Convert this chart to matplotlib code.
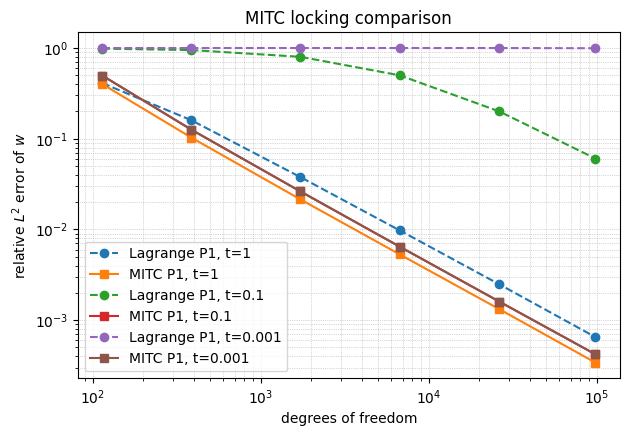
import numpy as np
import matplotlib
matplotlib.use("Agg")
import matplotlib.pyplot as plt

# degrees of freedom per refinement level
dofs = [114, 386, 1726, 6730, 26360, 98400]

# relative L2 error of w
lagrange_t1 = [0.41, 0.16, 0.0377, 0.00975, 0.00248, 0.00065]
mitc_t1 = [0.40, 0.103, 0.0214, 0.0053, 0.00132, 0.00034]
lagrange_t01 = [0.985, 0.95, 0.80, 0.50, 0.20, 0.0605]
mitc_t01 = [0.497, 0.126, 0.0262, 0.00645, 0.0016, 0.00042]
lagrange_t0001 = [1.0, 1.0, 1.0, 1.0, 1.0, 0.995]
mitc_t0001 = [0.497, 0.126, 0.0262, 0.00645, 0.0016, 0.00042]

fig, ax = plt.subplots(figsize=(6.29, 4.36), dpi=100)
fig.subplots_adjust(left=0.1235, right=0.9857, bottom=0.1323, top=0.9259)

ax.loglog(dofs, lagrange_t1, 'o--', label='Lagrange P1, t=1')
ax.loglog(dofs, mitc_t1, 's-', label='MITC P1, t=1')
ax.loglog(dofs, lagrange_t01, 'o--', label='Lagrange P1, t=0.1')
ax.loglog(dofs, mitc_t01, 's-', label='MITC P1, t=0.1')
ax.loglog(dofs, lagrange_t0001, 'o--', label='Lagrange P1, t=0.001')
ax.loglog(dofs, mitc_t0001, 's-', label='MITC P1, t=0.001')

ax.set_xlabel('degrees of freedom')
ax.set_ylabel('relative $L^2$ error of $w$')
ax.set_title('MITC locking comparison')
ax.grid(True, which='both', ls=':', lw=0.5)
ax.legend(loc='lower left')

fig.savefig('out.png')
